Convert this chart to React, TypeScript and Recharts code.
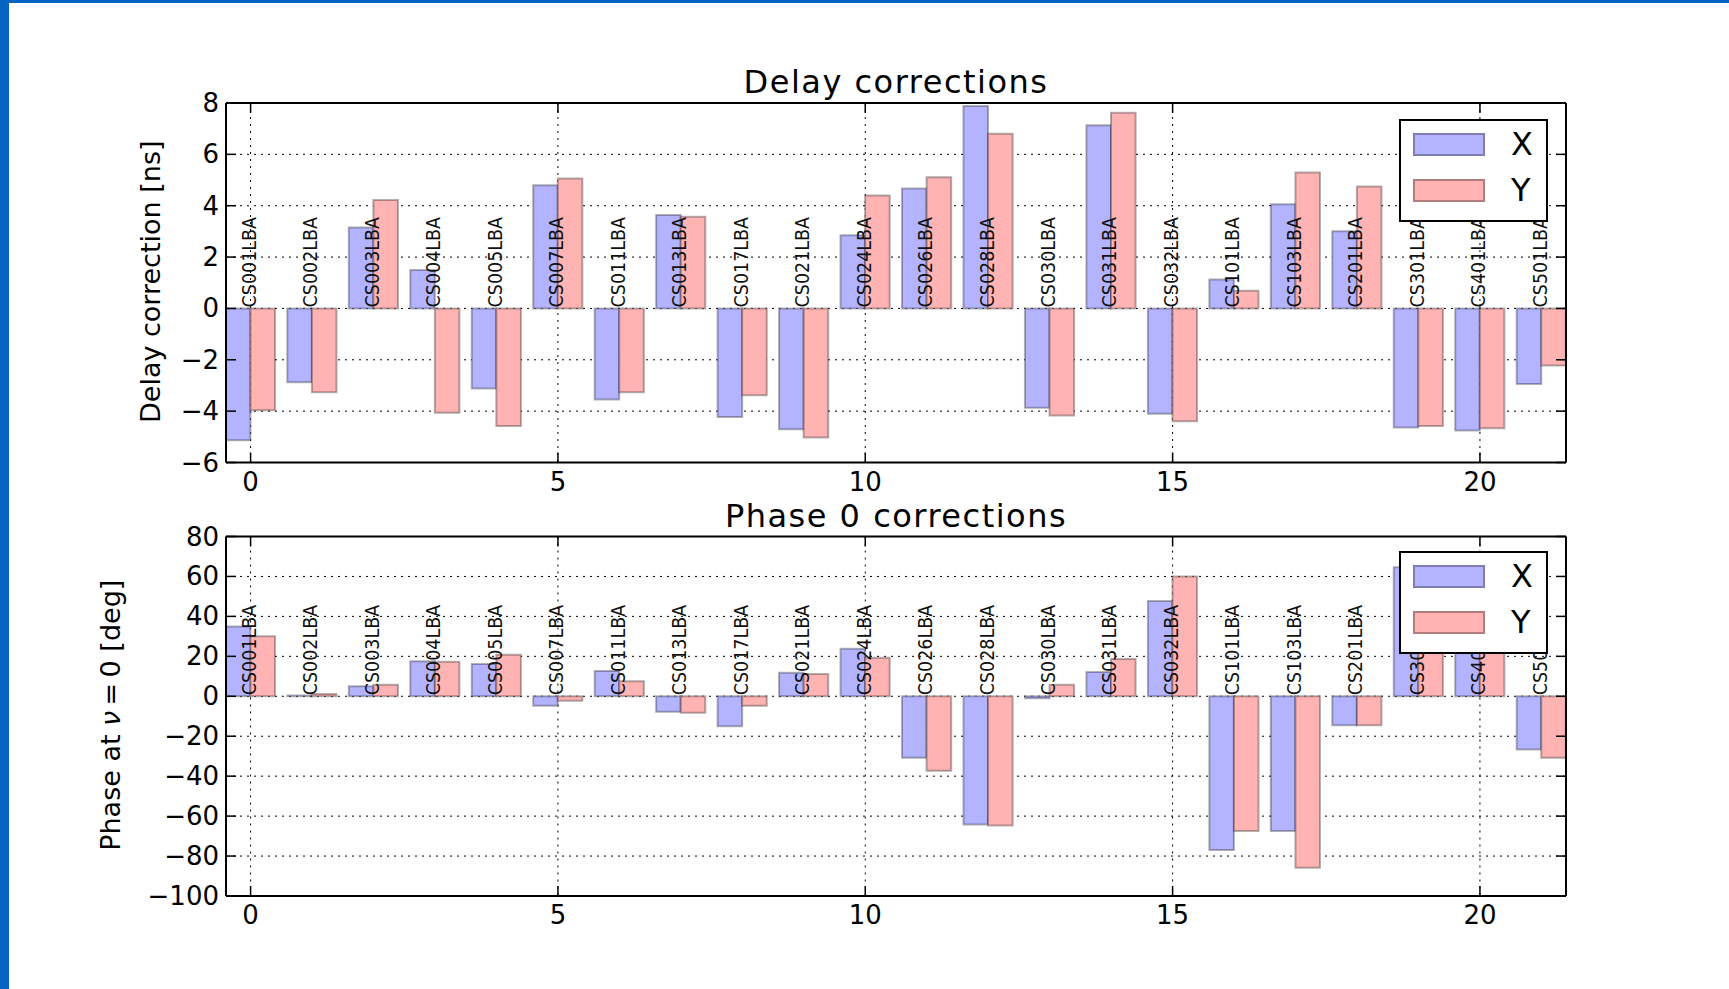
import { BarChart, Bar, XAxis, YAxis, CartesianGrid, Legend, LabelList, Label } from 'recharts'

const stations = [
  'CS001LBA', 'CS002LBA', 'CS003LBA', 'CS004LBA', 'CS005LBA', 'CS007LBA', 'CS011LBA', 'CS013LBA',
  'CS017LBA', 'CS021LBA', 'CS024LBA', 'CS026LBA', 'CS028LBA', 'CS030LBA', 'CS031LBA', 'CS032LBA',
  'CS101LBA', 'CS103LBA', 'CS201LBA', 'CS301LBA', 'CS401LBA', 'CS501LBA',
]
const delayX = [-5.13, -2.87, 3.15, 1.5, -3.12, 4.8, -3.55, 3.64, -4.23, -4.71, 2.85, 4.67, 7.88, -3.87, 7.13, -4.1, 1.13, 4.06, 3.01, -4.64, -4.75, -2.94]
const delayY = [-3.97, -3.26, 4.22, -4.06, -4.58, 5.06, -3.26, 3.57, -3.38, -5.03, 4.4, 5.11, 6.8, -4.17, 7.62, -4.39, 0.69, 5.29, 4.75, -4.58, -4.67, -2.22]
const phaseX = [34.9, 0.4, 5.0, 17.6, 16.1, -4.8, 12.6, -7.7, -15.0, 11.8, 23.8, -30.8, -64.2, -1.0, 12.2, 47.7, -77.0, -67.5, -14.5, 64.6, 38, -26.7]
const phaseY = [30.1, 1.2, 5.8, 17.3, 20.8, -2.3, 7.5, -8.3, -4.7, 11.2, 19.3, -37.3, -64.7, 5.8, 18.7, 60.0, -67.5, -85.8, -14.5, 52, 45, -30.8]

const xTicks = [0, 5, 10, 15, 20]
const delayTicks = [-6, -4, -2, 0, 2, 4, 6, 8]
const phaseTicks = [-100, -80, -60, -40, -20, 0, 20, 40, 60, 80]
const legendNames = ['X', 'Y']

const FONT = '"DejaVu Sans", sans-serif'
const W = 1729
const PLOT_LEFT = 226
const PLOT_RIGHT = 1566
const PLOT_H = 359.5
const X_DOMAIN: [number, number] = [-0.4, 21.4]
const BAR = ((PLOT_RIGHT - PLOT_LEFT) / (X_DOMAIN[1] - X_DOMAIN[0])) * 0.4
const X_FILL = '#b3b3ff'
const Y_FILL = '#ffb3b3'
const EDGE = 'rgba(0,0,0,0.3)'

const fmt = (v: number) => (v < 0 ? '\u2212' + Math.abs(v) : String(v))

function LeftTick({ x, y, payload }: any) {
  return (
    <g>
      <line x1={x} x2={x + 10} y1={y} y2={y} stroke="#000" strokeWidth={1.5} />
      <text x={x - 7} y={y + 9} textAnchor="end" fontSize={26} fontFamily={FONT} fill="#000">
        {fmt(payload.value)}
      </text>
    </g>
  )
}

function RightTick({ x, y }: any) {
  return <line x1={x} x2={x - 10} y1={y} y2={y} stroke="#000" strokeWidth={1.5} />
}

function BottomTick({ x, y, payload }: any) {
  return (
    <g>
      <line x1={x} x2={x} y1={y} y2={y - 10} stroke="#000" strokeWidth={1.5} />
      <text x={x} y={y + 28} textAnchor="middle" fontSize={26} fontFamily={FONT} fill="#000">
        {fmt(payload.value)}
      </text>
    </g>
  )
}

function TopTick({ x, y }: any) {
  return <line x1={x} x2={x} y1={y} y2={y + 10} stroke="#000" strokeWidth={1.5} />
}

function LegendBox() {
  const fills = [X_FILL, Y_FILL]
  return (
    <div
      style={{
        position: 'relative',
        width: 149,
        height: 103,
        boxSizing: 'border-box',
        border: '2.5px solid #000',
        background: '#fff',
        fontFamily: FONT,
      }}
    >
      {legendNames.map((n, k) => (
        <div key={n}>
          <div
            style={{
              position: 'absolute',
              left: 11.5,
              top: 11.5 + k * 46,
              width: 72,
              height: 23,
              boxSizing: 'border-box',
              background: fills[k],
              border: `2px solid ${EDGE}`,
            }}
          />
          <div
            style={{
              position: 'absolute',
              left: 110,
              top: 11.5 + k * 46,
              height: 23,
              lineHeight: '23px',
              fontSize: 32,
              color: '#000',
            }}
          >
            {n}
          </div>
        </div>
      ))}
    </div>
  )
}

interface PanelProps {
  title: string
  yLabel: React.ReactNode
  labelGap: number
  xs: number[]
  ys: number[]
  domain: [number, number]
  ticks: number[]
  top: number
  height: number
  plotTop: number
  legendTop: number
}

function Panel({ title, yLabel, labelGap, xs, ys, domain, ticks, top, height, plotTop, legendTop }: PanelProps) {
  const rows = stations.map((name, i) => ({ idx: i, name, x: xs[i], y: ys[i] }))

  const renderStation = (p: any) => {
    const { x, y, height: h, index } = p
    const bTop = Math.min(y, y + h)
    const bBot = Math.max(y, y + h)
    const zero = ys[index] >= 0 ? bBot : bTop
    const bx = x + 5.5
    return (
      <text
        key={index}
        transform={`translate(${bx}, ${zero - 1}) rotate(-90) scale(1, 1.15)`}
        textAnchor="start"
        fontSize={17.5}
        fontFamily={FONT}
        fill="#111"
      >
        {stations[index]}
      </text>
    )
  }

  return (
    <div style={{ position: 'absolute', left: 0, top, width: W, height }}>
      <div
        style={{
          position: 'absolute',
          left: PLOT_LEFT,
          width: PLOT_RIGHT - PLOT_LEFT,
          top: plotTop - 34,
          height: 26,
          lineHeight: '26px',
          textAlign: 'center',
          fontSize: 32,
          letterSpacing: 1.5,
          fontFamily: FONT,
          color: '#000',
          whiteSpace: 'nowrap',
        }}
      >
        {title}
      </div>
      <BarChart
        width={W}
        height={height}
        data={rows}
        barGap={0}
        barSize={BAR}
        margin={{ top: plotTop - 1, right: W - PLOT_RIGHT - 1, bottom: height - plotTop - PLOT_H - 30, left: PLOT_LEFT - 100 }}
      >
        <XAxis
          dataKey="idx"
          type="number"
          domain={X_DOMAIN}
          ticks={xTicks}
          allowDataOverflow
          interval={0}
          height={30}
          tickSize={0}
          tickMargin={0}
          tickLine={false}
          tick={<BottomTick />}
          axisLine={{ stroke: '#000', strokeWidth: 2 }}
        />
        <XAxis
          xAxisId="top"
          orientation="top"
          dataKey="idx"
          type="number"
          domain={X_DOMAIN}
          ticks={xTicks}
          allowDataOverflow
          interval={0}
          height={1}
          tickSize={0}
          tickMargin={0}
          tickLine={false}
          tick={<TopTick />}
          axisLine={{ stroke: '#000', strokeWidth: 2 }}
        />
        <YAxis
          type="number"
          domain={domain}
          ticks={ticks}
          allowDataOverflow
          interval={0}
          width={100}
          tickSize={0}
          tickMargin={0}
          tickLine={false}
          tick={<LeftTick />}
          axisLine={{ stroke: '#000', strokeWidth: 2 }}
        >
          <Label
            content={(p: any) => {
              const vb = p.viewBox
              const cx = vb.x + vb.width - labelGap
              const cy = vb.y + vb.height / 2 - 1
              return (
                <text
                  transform={`translate(${cx}, ${cy}) rotate(-90)`}
                  textAnchor="middle"
                  dominantBaseline="central"
                  fontSize={27}
                  fontFamily={FONT}
                  fill="#000"
                >
                  {yLabel}
                </text>
              )
            }}
          />
        </YAxis>
        <YAxis
          yAxisId="right"
          orientation="right"
          type="number"
          domain={domain}
          ticks={ticks}
          allowDataOverflow
          interval={0}
          width={1}
          tickSize={0}
          tickMargin={0}
          tickLine={false}
          tick={<RightTick />}
          axisLine={{ stroke: '#000', strokeWidth: 2 }}
        />
        <Bar dataKey="x" name="X" fill={X_FILL} stroke={EDGE} strokeWidth={2} barSize={BAR} isAnimationActive={false} />
        <Bar dataKey="y" name="Y" fill={Y_FILL} stroke={EDGE} strokeWidth={2} barSize={BAR} isAnimationActive={false}>
          <LabelList dataKey="name" content={renderStation} />
        </Bar>
        <CartesianGrid stroke="#000" strokeWidth={1} strokeDasharray="2 5" />
        <Legend
          layout="vertical"
          align="center"
          verticalAlign="middle"
          wrapperStyle={{ left: 1399, top: legendTop, width: 149, height: 103 }}
          content={() => <LegendBox />}
        />
      </BarChart>
    </div>
  )
}

export default function App() {
  return (
    <div
      style={{
        position: 'absolute',
        left: 0,
        top: 0,
        width: W,
        height: 989,
        background: '#fff',
        overflow: 'hidden',
        fontFamily: FONT,
      }}
    >
      <div style={{ position: 'absolute', left: 0, top: 0, width: W, height: 3, background: '#0563c1' }} />
      <div style={{ position: 'absolute', left: 0, top: 0, width: 9, height: 989, background: '#0563c1' }} />
      <Panel
        title="Delay corrections"
        yLabel="Delay correction [ns]"
        labelGap={76}
        xs={delayX}
        ys={delayY}
        domain={[-6, 8]}
        ticks={delayTicks}
        top={0}
        height={500}
        plotTop={103}
        legendTop={119}
      />
      <Panel
        title="Phase 0 corrections"
        yLabel={
          <>
            Phase at <tspan fontStyle="italic">ν</tspan>
            {'\u2009=\u20090 [deg]'}
          </>
        }
        labelGap={116}
        xs={phaseX}
        ys={phaseY}
        domain={[-100, 80]}
        ticks={phaseTicks}
        top={460}
        height={529}
        plotTop={76.5}
        legendTop={91}
      />
    </div>
  )
}
